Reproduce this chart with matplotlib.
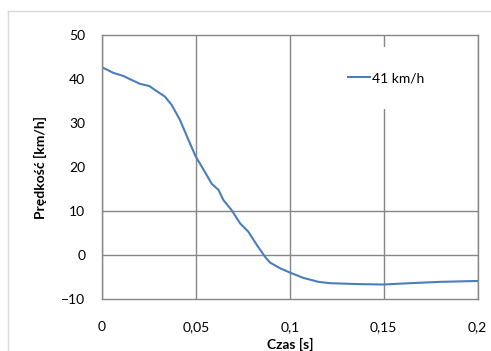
import numpy as np
import matplotlib
matplotlib.use('Agg')
import matplotlib.pyplot as plt
from matplotlib.lines import Line2D

# Values
czas = [0.0, 0.0004, 0.006, 0.0113, 0.0167, 0.0202, 0.0252, 0.0282, 0.0335,
        0.0371, 0.0415, 0.0442, 0.0468, 0.0500, 0.0531, 0.0557, 0.0584, 0.0620,
        0.0646, 0.0690, 0.0735, 0.0779, 0.0824, 0.0868, 0.0894, 0.0948, 0.1001,
        0.1072, 0.1152, 0.1214, 0.1356, 0.1497, 0.1640, 0.1800, 0.2000]
predkosc = [42.7, 42.6, 41.4, 40.7, 39.6, 38.9, 38.4, 37.5, 36.0,
            34.1, 30.7, 28.0, 25.4, 22.3, 20.1, 18.2, 16.2, 14.8,
            12.5, 10.2, 7.2, 5.3, 2.3, -0.4, -1.7, -3.0, -4.0,
            -5.2, -6.1, -6.4, -6.6, -6.7, -6.4, -6.1, -5.9]
series_name = '41 km/h'

x_ticks = [0, 0.05, 0.1, 0.15, 0.2]
x_labels = ['0', '0,05', '0,1', '0,15', '0,2']
y_ticks = [-10, 0, 10, 20, 30, 40, 50]
# only these horizontal gridlines are drawn in the original
y_grid_shown = [0, 10]

plt.rcParams['font.family'] = ['Lato', 'DejaVu Sans']

fig = plt.figure(figsize=(4.91, 3.51), dpi=100)
ax = fig.add_axes([0.2077, 0.1481, 0.7652, 0.7522])

grid_col = '#868686'
blue = '#4A7EBB'

# outer chart-area border (light gray)
fig.add_artist(Line2D([8 / 491, 1], [1 - 11 / 351] * 2, transform=fig.transFigure,
                      color='#D9D9D9', lw=1))
fig.add_artist(Line2D([8 / 491] * 2, [0, 1 - 11 / 351], transform=fig.transFigure,
                      color='#D9D9D9', lw=1))

ax.plot(czas, predkosc, color=blue, lw=1.5, label=series_name)

ax.set_xlim(0, 0.2)
ax.set_ylim(-10, 50)
ax.set_xticks(x_ticks)
ax.set_xticklabels(x_labels)
ax.set_yticks(y_ticks)
ax.grid(True, color=grid_col, lw=1)
for val, gl in zip(y_ticks, ax.yaxis.get_gridlines()):
    gl.set_visible(val in y_grid_shown)
ax.set_axisbelow(True)
for s in ax.spines.values():
    s.set_color(grid_col)
    s.set_linewidth(1)
ax.tick_params(axis='both', length=0, labelsize=10, colors='black')
ax.tick_params(axis='y', pad=12)
ax.tick_params(axis='x', pad=16)

ax.set_ylabel('Prędkość [km/h]', fontsize=10, fontweight='bold')
ax.yaxis.set_label_coords(-0.165, 0.5)
ax.yaxis.label.set_va('center')
ax.set_xlabel('Czas [s]', fontsize=10, fontweight='bold')
ax.xaxis.set_label_coords(0.5, -0.174)
ax.xaxis.label.set_va('center')

leg = ax.legend(loc='center left', bbox_to_anchor=(0.588, 0.837), borderaxespad=0,
                frameon=True, fancybox=False, fontsize=10, handlelength=1.6,
                handletextpad=0.15, borderpad=1.8)
leg.get_frame().set_facecolor('white')
leg.get_frame().set_edgecolor('none')
leg.get_frame().set_alpha(1)

plt.savefig('out.png', dpi=100)
